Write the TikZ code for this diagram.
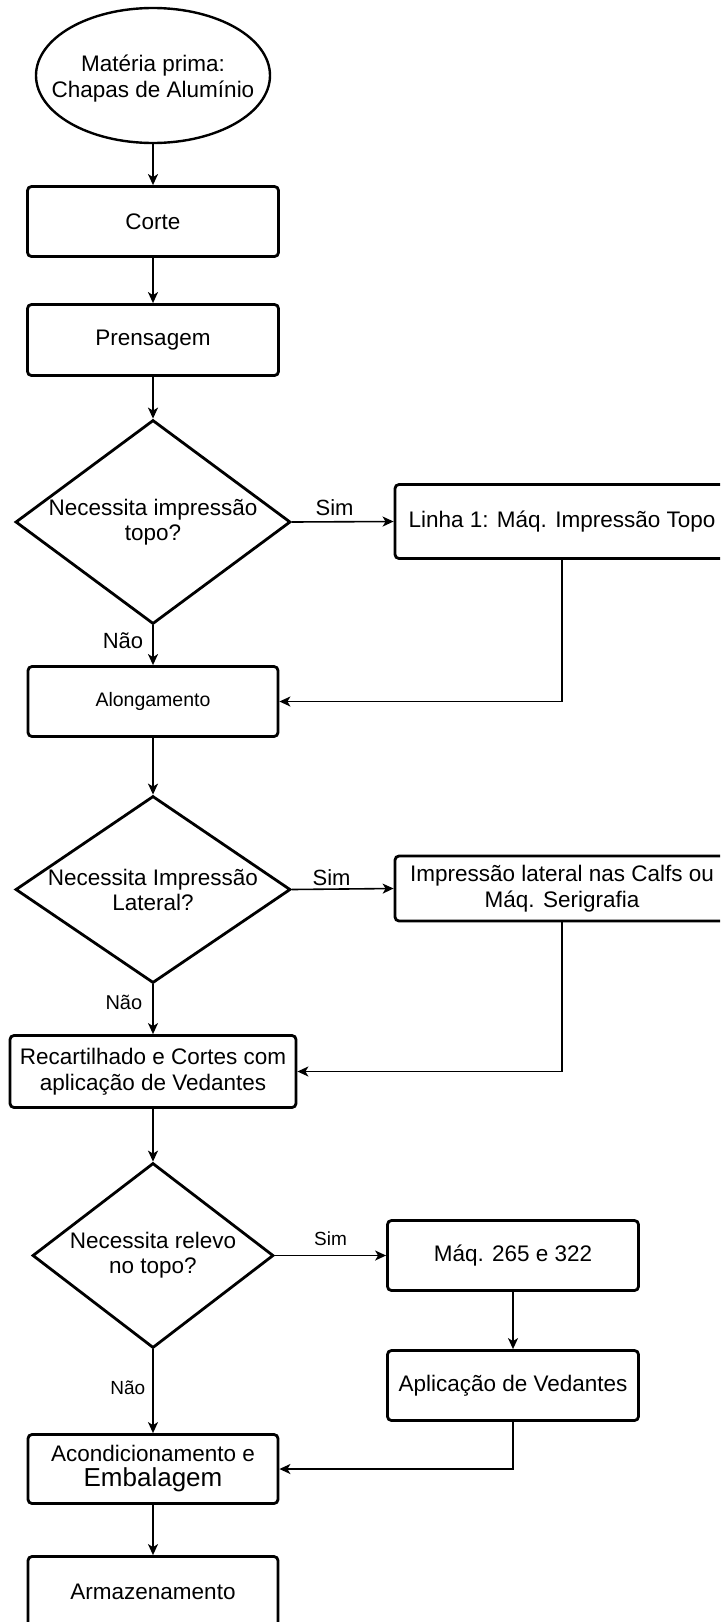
\documentclass[tikz,border=0pt]{standalone}
\usepackage{fontspec}
\setmainfont{Liberation Sans}
\usetikzlibrary{shapes.geometric,arrows.meta}

\begin{document}
\begin{tikzpicture}[x=1pt,y=-1pt,
  base/.style={draw=black, line width=2.8pt, inner sep=0pt, align=center,
    font=\fontsize{22.5}{26}\selectfont},
  procbox/.style={base, rectangle, rounded corners=4pt},
  startnode/.style={base, ellipse, line width=2.4pt},
  decision/.style={base, diamond},
  dtext/.style={inner sep=0pt, align=center, font=\fontsize{22.5}{25}\selectfont},
  flow/.style={line width=1.6pt, -{Stealth[length=11pt,width=10pt,inset=3pt]}},
  back/.style={line width=1.6pt, -{Stealth[length=11pt,width=10pt,inset=3pt]}},
  lbl/.style={inner sep=0pt, font=\fontsize{22}{26}\selectfont},
  lblsmall/.style={inner sep=0pt, font=\fontsize{20}{24}\selectfont},
  lbltiny/.style={inner sep=0pt, font=\fontsize{19}{23}\selectfont},
]
% page frame
\useasboundingbox (0,0) rectangle (720,1622);
\fill[white] (0,0) rectangle (720,1622);
\clip (0,0) rectangle (720,1622);

% main column
\node[startnode, minimum width=234pt, minimum height=135pt] (start) at (153,75.5) {};
\node[dtext, font=\fontsize{22.5}{26}\selectfont] (starttxt) at ([yshift=-3pt]start.center)
  {Matéria prima:\\Chapas de Alumínio};
\node[procbox, minimum width=251pt, minimum height=70pt] (corte) at (153,221.5) {Corte};
\node[procbox, minimum width=251pt, minimum height=71pt] (prensa) at (153,340) {Prensagem};

\node[decision, minimum width=275pt, minimum height=204pt] (d1) at (153,522) {};
\node[dtext] (d1txt) at (d1.center) {Necessita impressão\\topo?};

\node[procbox, minimum width=334pt, minimum height=74pt] (linha1) at (562,521.5)
  {Linha 1: Máq. Impressão Topo};

\node[procbox, minimum width=250pt, minimum height=70pt,
  font=\fontsize{19.5}{23}\selectfont] (along) at (153,701.5) {Alongamento};

\node[decision, minimum width=275pt, minimum height=187pt] (d2) at (153,889.5) {};
\node[dtext] (d2txt) at (d2.center) {Necessita Impressão\\Lateral?};

\node[procbox, minimum width=334pt, minimum height=65pt] (lateral) at (562,888.5)
  {Impressão lateral nas Calfs ou\\Máq. Serigrafia};

\node[procbox, minimum width=286pt, minimum height=72pt] (recart) at (153,1071.5)
  {Recartilhado e Cortes com\\aplicação de Vedantes};

\node[decision, minimum width=241pt, minimum height=185pt] (d3) at (153,1255.5) {};
\node[dtext] (d3txt) at (d3.center) {Necessita relevo\\no topo?};

\node[procbox, minimum width=251pt, minimum height=70pt] (maq) at (513,1255.5)
  {Máq. 265 e 322};
\node[procbox, minimum width=251pt, minimum height=70pt] (aplic) at (513,1385.5)
  {Aplicação de Vedantes};

\node[procbox, minimum width=250pt, minimum height=69pt] (acond) at (153,1469)
  {Acondicionamento e\\[-1pt]{\fontsize{26}{30}\selectfont Embalagem}};
\node[procbox, minimum width=250pt, minimum height=70pt] (armaz) at (153,1591.5)
  {Armazenamento};

% connectors
\draw[flow] (start) -- (corte);
\draw[flow] (corte) -- (prensa);
\draw[flow] (prensa) -- (d1.north);
\draw[flow] (d1.east) -- node[lbl, pos=0.42, above=5pt] (sim1) {Sim} (linha1.west);
\draw[flow] (d1.south) -- node[lbl, pos=0.38, left=9pt] (nao1) {Não} (along.north);
\draw[back] (linha1.south) |- (along.east);
\draw[flow] (along) -- (d2.north);
\draw[flow] (d2.east) -- node[lbl, pos=0.39, above=3pt] (sim2) {Sim} (lateral.west);
\draw[flow] (d2.south) -- node[lblsmall, pos=0.37, left=10pt] (nao2) {Não} (recart.north);
\draw[back] (lateral.south) |- (recart.east);
\draw[flow] (recart) -- (d3.north);
\draw[flow] (d3.east) -- node[lbltiny, pos=0.5, above=9pt] (sim3) {Sim} (maq.west);
\draw[flow] (d3.south) -- node[lbltiny, pos=0.46, left=7pt] (nao3) {Não} (acond.north);
\draw[flow] (maq) -- (aplic);
\draw[back] (aplic.south) |- (acond.east);
\draw[flow] (acond) -- (armaz);
\end{tikzpicture}
\end{document}
